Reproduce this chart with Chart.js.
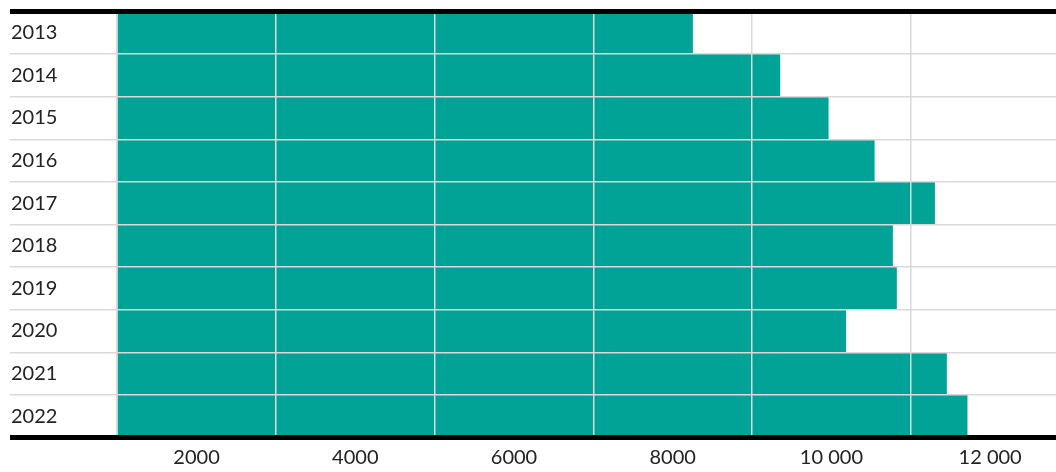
<!DOCTYPE html>
<html>
<head>
<meta charset="utf-8">
<script src="https://cdn.jsdelivr.net/npm/chart.js@4/dist/chart.umd.min.js"></script>
<style>
  html, body { margin: 0; padding: 0; background: #ffffff; }
  #wrap { width: 1056px; height: 472px; position: relative; }
</style>
</head>
<body>
<div id="wrap"><canvas id="c"></canvas></div>
<script>
const categories = ['2013', '2014', '2015', '2016', '2017', '2018', '2019', '2020', '2021', '2022'];
const values = [8250, 9350, 9960, 10540, 11300, 10770, 10820, 10180, 11450, 11710];
const barBase = 1000;
const xMin = -351;
const xMax = 12830;
const xTickValues = [2000, 4000, 6000, 8000, 10000, 12000];
const xTickLabels = ['2000', '4000', '6000', '8000', '10 000', '12 000'];
const xGridValues = [1000, 3000, 5000, 7000, 9000, 11000];

const FONT = 'Lato, "Open Sans", sans-serif';
const GRID = '#d9d9d9';

new Chart(document.getElementById('c'), {
  type: 'bar',
  data: {
    labels: categories,
    datasets: [{
      data: values,
      base: barBase,
      backgroundColor: '#00a396',
      borderWidth: 0,
      barPercentage: 1,
      categoryPercentage: 1
    }]
  },
  options: {
    indexAxis: 'y',
    responsive: true,
    maintainAspectRatio: false,
    animation: false,
    layout: { padding: { left: 8, right: 0, top: 11.5, bottom: 0 } },
    plugins: { legend: { display: false }, tooltip: { enabled: false } },
    scales: {
      x: {
        type: 'linear',
        min: xMin,
        max: xMax,
        z: 1,
        border: { display: false },
        afterBuildTicks: (scale) => {
          scale.ticks = xGridValues.concat(xTickValues)
            .sort((a, b) => a - b)
            .map(v => ({ value: v }));
        },
        afterFit: (scale) => { scale.height = 34.5; },
        grid: {
          z: 1,
          drawTicks: false,
          lineWidth: 1.5,
          color: (ctx) => (ctx.tick && xGridValues.includes(ctx.tick.value)) ? GRID : 'rgba(0,0,0,0)'
        },
        ticks: {
          autoSkip: false,
          maxRotation: 0,
          padding: 8,
          color: '#222',
          font: { family: FONT, size: 20 },
          callback: (v) => {
            const i = xTickValues.indexOf(v);
            return i >= 0 ? xTickLabels[i] : '';
          }
        }
      },
      y: {
        type: 'category',
        z: 1,
        offset: true,
        border: { display: false },
        afterFit: (scale) => { scale.paddingTop = 0; scale.paddingBottom = 0; },
        grid: {
          z: 1,
          offset: true,
          drawTicks: false,
          color: (ctx) => (ctx.index === 0 || ctx.index === undefined) ? '#000000' : GRID,
          lineWidth: (ctx) => (ctx.index === 0 || ctx.index === undefined) ? 5 : 1.5
        },
        ticks: {
          mirror: true,
          padding: 1,
          color: '#222',
          font: { family: FONT, size: 20 }
        }
      }
    }
  }
});
</script>
</body>
</html>
